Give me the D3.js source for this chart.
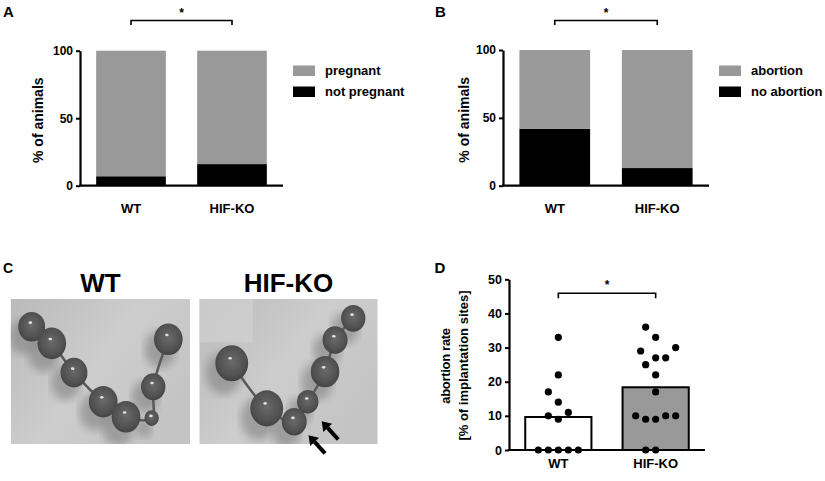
<!DOCTYPE html>
<html><head><meta charset="utf-8">
<script src="https://cdn.jsdelivr.net/npm/d3@7"></script>
<style>
body{margin:0;background:#fff}
svg{display:block}
text{font-family:"Liberation Sans",Arial,Helvetica,sans-serif;font-weight:bold;fill:#000}
</style>
</head><body>
<svg id="chart" width="825" height="481"></svg>
<script>
// ---------------- data ----------------
const categories = ["WT", "HIF-KO"];
const notPregnant = [7, 16];
const pregnant = [93, 84];
const noAbortion = [42, 13];
const abortion = [58, 87];
const abortionRateWT = [0, 0, 0, 0, 0, 9, 10, 11, 14, 17, 22, 33];
const abortionRateKO = [0, 0, 9, 9, 10, 10, 10, 17, 22, 25, 27, 27, 29, 30, 33, 36];
const yTicksPct = [0, 50, 100];
const yTicksRate = [0, 10, 20, 30, 40, 50];
const legendA = ["pregnant", "not pregnant"];
const legendB = ["abortion", "no abortion"];

const GRAY = "#999999";
const svg = d3.select("#chart");

function letter(t, x, y, size) {
  svg.append("text").attr("x", x).attr("y", y).attr("font-size", size).text(t);
}

function bracket(x1, x2, y, drop, starY) {
  svg.append("path")
    .attr("d", `M${x1},${y + drop}V${y}H${x2}V${y + drop}`)
    .attr("fill", "none").attr("stroke", "#000").attr("stroke-width", 1.6);
  svg.append("text").attr("x", (x1 + x2) / 2).attr("y", starY)
    .attr("text-anchor", "middle").attr("font-size", 12).text("*");
}

function stackedPanel(cfg) {
  const x = d3.scaleBand().domain(categories).range([cfg.x0, cfg.x1])
    .paddingInner(0.31).paddingOuter(0.16);
  const y = d3.scaleLinear().domain([0, 100]).range([cfg.yBottom, cfg.yTop]);
  const rows = categories.map((c, i) => ({cat: c, bottom: cfg.bottom[i], top: cfg.top[i]}));
  const series = d3.stack().keys(["bottom", "top"])(rows);
  const colors = {bottom: "#000", top: GRAY};
  const g = svg.append("g");
  g.selectAll("g.s").data(series).join("g").attr("fill", d => colors[d.key])
    .selectAll("rect").data(d => d).join("rect")
    .attr("x", d => x(d.data.cat)).attr("width", x.bandwidth())
    .attr("y", d => y(d[1])).attr("height", d => y(d[0]) - y(d[1]));

  const ya = g.append("g").attr("transform", `translate(${cfg.x0},0)`)
    .call(d3.axisLeft(y).tickValues(yTicksPct).tickSize(4).tickSizeOuter(0).tickPadding(3));
  ya.select(".domain").attr("stroke-width", 2.2);
  ya.selectAll(".tick line").attr("stroke-width", 2);
  ya.selectAll("text").attr("font-size", 12).attr("font-family", "Liberation Sans").attr("font-weight", "bold");

  g.append("line").attr("x1", cfg.x0 - 1).attr("x2", cfg.x1)
    .attr("y1", y(0)).attr("y2", y(0)).attr("stroke", "#000").attr("stroke-width", 2.2);
  const xa = g.append("g").attr("transform", `translate(0,${y(0)})`)
    .call(d3.axisBottom(x).tickSize(0).tickPadding(18));
  xa.select(".domain").remove();
  xa.selectAll("text").attr("font-size", 13).attr("font-family", "Liberation Sans").attr("font-weight", "bold");

  svg.append("text").attr("transform", `translate(${cfg.ylabX},${(y(0) + y(100)) / 2 + 2}) rotate(-90)`)
    .attr("text-anchor", "middle").attr("dominant-baseline", "middle")
    .attr("font-size", 14).text("% of animals");

  const legendKeys = [GRAY, "#000"];
  cfg.legend.forEach((t, i) => {
    svg.append("rect").attr("x", cfg.legX).attr("y", 65.5 + i * 21).attr("width", 22).attr("height", 10.5)
      .attr("fill", legendKeys[i]);
    svg.append("text").attr("x", cfg.legX + 32).attr("y", 74.5 + i * 21).attr("font-size", 13).text(t);
  });

  const cx = categories.map(c => x(c) + x.bandwidth() / 2);
  bracket(cx[0], cx[1], 20.5, 4.5, 17);
}

stackedPanel({x0: 80, x1: 283, yTop: 50.7, yBottom: 185.7, bottom: notPregnant, top: pregnant,
  legend: legendA, legX: 293, ylabX: 39});
stackedPanel({x0: 503, x1: 709, yTop: 50, yBottom: 185.7, bottom: noAbortion, top: abortion,
  legend: legendB, legX: 719, ylabX: 465});
letter("A", 3, 16.5, 15);
letter("B", 435, 16.5, 15);

// ---------------- panel D ----------------
(function () {
  const x0 = 509, x1 = 705;
  const x = d3.scaleBand().domain(categories).range([x0, x1]).paddingInner(0.32).paddingOuter(0.167);
  const y = d3.scaleLinear().domain([0, 50]).range([450, 279.3]);
  const groups = [abortionRateWT, abortionRateKO];
  const fills = ["#fff", GRAY];
  const g = svg.append("g");
  g.selectAll("rect").data(categories).join("rect")
    .attr("x", c => x(c)).attr("width", x.bandwidth())
    .attr("y", (c, i) => y(d3.mean(groups[i])))
    .attr("height", (c, i) => y(0) - y(d3.mean(groups[i])))
    .attr("fill", (c, i) => fills[i]).attr("stroke", "#000").attr("stroke-width", 2);

  const ya = g.append("g").attr("transform", `translate(${x0},0)`)
    .call(d3.axisLeft(y).tickValues(yTicksRate).tickSize(4).tickSizeOuter(0).tickPadding(3));
  ya.select(".domain").attr("stroke-width", 2.2);
  ya.selectAll(".tick line").attr("stroke-width", 2);
  ya.selectAll("text").attr("font-size", 12.5).attr("font-family", "Liberation Sans").attr("font-weight", "bold");

  g.append("line").attr("x1", x0 - 1).attr("x2", x1).attr("y1", y(0)).attr("y2", y(0))
    .attr("stroke", "#000").attr("stroke-width", 2.2);
  const xa = g.append("g").attr("transform", `translate(0,${y(0)})`)
    .call(d3.axisBottom(x).tickSize(0).tickPadding(9));
  xa.select(".domain").remove();
  xa.selectAll("text").attr("font-size", 13).attr("font-family", "Liberation Sans").attr("font-weight", "bold");

  // scatter placement (column-scatter style: spread points that would overlap)
  const sepX = 10, sepY = 15, step = 5;
  groups.forEach((vals, gi) => {
    const cx = x(categories[gi]) + x.bandwidth() / 2;
    const placed = [];
    vals.slice().sort((a, b) => a - b).forEach(v => {
      const py = y(v);
      let k = 0;
      while (true) {
        const off = k === 0 ? 0 : (k % 2 === 1 ? -1 : 1) * Math.ceil(k / 2) * step;
        const ok = placed.every(p => {
          const dx = (p.x - (cx + off)) / sepX, dy = (p.y - py) / sepY;
          return dx * dx + dy * dy >= 0.999;
        });
        if (ok) { placed.push({x: cx + off, y: py}); break; }
        k++;
      }
    });
    g.selectAll(null).data(placed).join("circle")
      .attr("cx", d => d.x).attr("cy", d => d.y).attr("r", 3.6).attr("fill", "#000");
  });

  const lx = [447, 465];
  svg.append("text").attr("transform", `translate(${lx[0]},366) rotate(-90)`)
    .attr("text-anchor", "middle").attr("dominant-baseline", "middle").attr("font-size", 13)
    .attr("letter-spacing", -0.3).text("abortion rate");
  svg.append("text").attr("transform", `translate(${lx[1]},365.5) rotate(-90)`)
    .attr("text-anchor", "middle").attr("dominant-baseline", "middle").attr("font-size", 13)
    .text("[% of implantation sites]");

  const cxs = categories.map(c => x(c) + x.bandwidth() / 2);
  bracket(cxs[0], cxs[1], 293.3, 5, 289);
})();
letter("D", 434.5, 273, 15);

// ---------------- panel C (photo sketches) ----------------
letter("C", 3, 273, 14);
const photoWT = [[0.117,0.191,0.075],[0.229,0.306,0.08],[0.353,0.508,0.075],[0.516,0.708,0.08],
                 [0.643,0.812,0.08],[0.795,0.605,0.068],[0.879,0.278,0.08],[0.786,0.821,0.04]];
const photoKO = [[0.182,0.443,0.092],[0.378,0.754,0.092],[0.532,0.846,0.07],[0.608,0.708,0.06],
                 [0.705,0.501,0.08],[0.761,0.283,0.07],[0.863,0.133,0.068]];
const pathWT = [0, 1, 2, 3, 4, 7, 5, 6];
const pathKO = [0, 1, 2, 3, 4, 5, 6];
const defs = svg.append("defs");
const rg = defs.append("radialGradient").attr("id", "bead").attr("cx", "50%").attr("cy", "45%").attr("r", "60%");
rg.append("stop").attr("offset", "0%").attr("stop-color", "#6a6a6a");
rg.append("stop").attr("offset", "75%").attr("stop-color", "#4e4e4e");
rg.append("stop").attr("offset", "100%").attr("stop-color", "#3c3c3c");
const bg = defs.append("linearGradient").attr("id", "bg").attr("x1", "0").attr("y1", "0").attr("x2", "1").attr("y2", "0.6");
bg.append("stop").attr("offset", "0%").attr("stop-color", "#bababa");
bg.append("stop").attr("offset", "55%").attr("stop-color", "#cdcdcd");
bg.append("stop").attr("offset", "100%").attr("stop-color", "#c4c4c4");
defs.append("filter").attr("id", "blur").append("feGaussianBlur").attr("stdDeviation", 4);
defs.append("filter").attr("id", "soft").append("feGaussianBlur").attr("stdDeviation", 0.7);

function photo(id, x0, y0, w, h, beads, order, title, arrows) {
  const sx = d3.scaleLinear().domain([0, 1]).range([x0, x0 + w]);
  const sy = d3.scaleLinear().domain([0, 1]).range([y0, y0 + h]);
  defs.append("clipPath").attr("id", id).append("rect").attr("x", x0).attr("y", y0).attr("width", w).attr("height", h);
  const g = svg.append("g").attr("clip-path", `url(#${id})`);
  g.append("rect").attr("x", x0).attr("y", y0).attr("width", w).attr("height", h).attr("fill", "url(#bg)");
  if (id === "pko") {
    g.append("rect").attr("x", sx(0)).attr("y", sy(0)).attr("width", sx(0.3) - sx(0)).attr("height", sy(0.3) - sy(0))
      .attr("fill", "#d4d4d4").attr("opacity", 0.6);
  }
  // shadows
  g.selectAll(null).data(beads).join("ellipse")
    .attr("cx", d => sx(d[0]) - 8).attr("cy", d => sy(d[1]) + 10)
    .attr("rx", d => d[2] * w * 1.1).attr("ry", d => d[2] * w * 1.3)
    .attr("fill", "#808080").attr("opacity", 0.6).attr("filter", "url(#blur)");
  // connecting tube
  g.append("path").attr("d", d3.line().curve(d3.curveCatmullRom)(order.map(i => [sx(beads[i][0]), sy(beads[i][1])])))
    .attr("fill", "none").attr("stroke", "#5a5a5a").attr("stroke-width", 2.5);
  const bz = g.append("g").attr("filter", "url(#soft)");
  bz.selectAll(null).data(beads).join("ellipse")
    .attr("cx", d => sx(d[0])).attr("cy", d => sy(d[1]))
    .attr("rx", d => d[2] * w).attr("ry", d => d[2] * w * 1.1)
    .attr("fill", "url(#bead)");
  bz.selectAll(null).data(beads).join("ellipse")
    .attr("cx", d => sx(d[0]) - d[2] * w * 0.1).attr("cy", d => sy(d[1]) - d[2] * w * 0.3)
    .attr("rx", 1.8).attr("ry", 1.3).attr("fill", "#e0e0e0");
  svg.append("text").attr("x", x0 + w / 2).attr("y", 291.7).attr("text-anchor", "middle")
    .attr("font-size", 26).text(title);
  arrows.forEach(a => {
    const [tx, ty, hx, hy] = [sx(a[0]), sy(a[1]), sx(a[2]), sy(a[3])];
    const ang = Math.atan2(hy - ty, hx - tx);
    const hl = 9, hw = 6;
    const bx = hx - hl * Math.cos(ang), by = hy - hl * Math.sin(ang);
    svg.append("line").attr("x1", tx).attr("y1", ty).attr("x2", bx).attr("y2", by)
      .attr("stroke", "#000").attr("stroke-width", 4);
    svg.append("path").attr("d",
      `M${hx},${hy}L${bx + hw * Math.sin(ang)},${by - hw * Math.cos(ang)}L${bx - hw * Math.sin(ang)},${by + hw * Math.cos(ang)}Z`)
      .attr("fill", "#000");
  });
}
photo("pwt", 10.7, 299, 179.3, 145, photoWT, pathWT, "WT", []);
photo("pko", 199.3, 299, 178.4, 145, photoKO, pathKO, "HIF-KO",
  [[0.779, 0.969, 0.686, 0.843], [0.705, 1.064, 0.612, 0.94]]);
</script>
</body></html>
